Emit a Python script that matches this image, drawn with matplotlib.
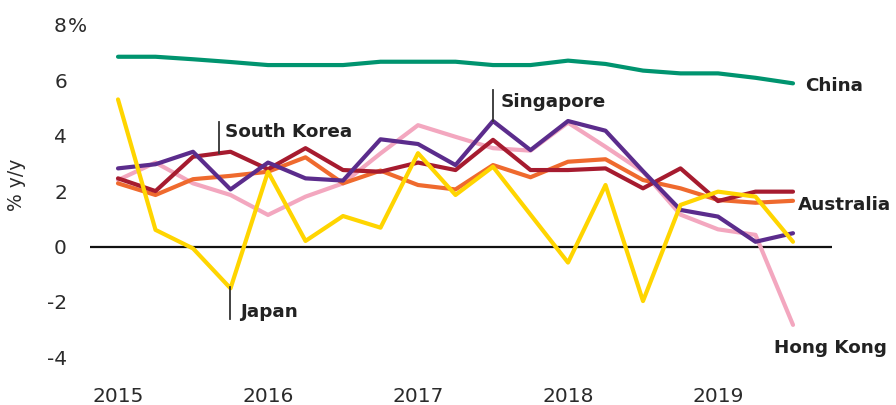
import matplotlib
matplotlib.use("Agg")
import matplotlib.pyplot as plt
import matplotlib.transforms as mtransforms

# ---------------- data ----------------
quarters = ["2015Q1", "2015Q2", "2015Q3", "2015Q4",
            "2016Q1", "2016Q2", "2016Q3", "2016Q4",
            "2017Q1", "2017Q2", "2017Q3", "2017Q4",
            "2018Q1", "2018Q2", "2018Q3", "2018Q4",
            "2019Q1", "2019Q2", "2019Q3"]

china = [6.85, 6.85, 6.76, 6.66, 6.55, 6.55, 6.55, 6.67, 6.67, 6.67,
         6.55, 6.55, 6.71, 6.59, 6.35, 6.25, 6.25, 6.09, 5.89]
hong_kong = [2.4, 3.03, 2.28, 1.86, 1.14, 1.8, 2.28, 3.36, 4.38, 3.96,
             3.55, 3.46, 4.47, 3.6, 2.7, 1.15, 0.62, 0.42, -2.83]
australia = [2.28, 1.86, 2.43, 2.55, 2.7, 3.22, 2.28, 2.74, 2.22, 2.06,
             2.94, 2.5, 3.06, 3.15, 2.4, 2.1, 1.68, 1.58, 1.65]
south_korea = [2.46, 2.0, 3.24, 3.42, 2.79, 3.55, 2.76, 2.7, 3.03, 2.76,
               3.85, 2.76, 2.76, 2.82, 2.1, 2.82, 1.64, 1.98, 1.98]
singapore = [2.82, 2.97, 3.42, 2.06, 3.03, 2.46, 2.38, 3.87, 3.7, 2.94,
             4.53, 3.48, 4.53, 4.18, 2.72, 1.32, 1.08, 0.17, 0.48]
japan = [5.31, 0.6, -0.07, -1.51, 2.7, 0.2, 1.1, 0.68, 3.37, 1.86,
         2.88, 1.15, -0.58, 2.22, -1.97, 1.5, 1.98, 1.8, 0.17]

year_ticks = ["2015", "2016", "2017", "2018", "2019"]
year_tick_quarters = ["2015Q1", "2016Q1", "2017Q1", "2018Q1", "2019Q1"]
y_ticks = [8, 6, 4, 2, 0, -2, -4]

# ---------------- styling ----------------
colors = {
    "China": "#00946f",
    "Hong Kong": "#f3a7bf",
    "Australia": "#ef6a2e",
    "South Korea": "#a61b2f",
    "Singapore": "#5b2c8c",
    "Japan": "#ffd500",
}
series = [("China", china), ("Hong Kong", hong_kong), ("Australia", australia),
          ("South Korea", south_korea), ("Singapore", singapore), ("Japan", japan)]

W, H = 896, 405
fig = plt.figure(figsize=(W / 100, H / 100), dpi=100)
ax_left, ax_right = 90, 832
ax_top, ax_bottom = 24.9, 357.3
ax = fig.add_axes([ax_left / W, 1 - ax_bottom / H,
                   (ax_right - ax_left) / W, (ax_bottom - ax_top) / H])

x = list(range(len(quarters)))
ax.axhline(0, color="#111111", lw=1.6, zorder=1)
for z, (name, vals) in enumerate(series):
    ax.plot(x, vals, color=colors[name], lw=3.0, solid_capstyle="round",
            solid_joinstyle="round", zorder=2 + z)

ax.set_xlim(-0.747, 19.04)
ax.set_ylim(-4, 8)
for s in ax.spines.values():
    s.set_visible(False)

tick_color = "#2b2b2b"
ax.set_xticks([quarters.index(q) for q in year_tick_quarters], labels=year_ticks)
ax.set_yticks(y_ticks, labels=[str(v) for v in y_ticks])
ax.tick_params(axis="x", length=0, pad=21.4, labelsize=14.5, labelcolor=tick_color)
ax.tick_params(axis="y", length=0, pad=16.6, labelsize=14.5, labelcolor=tick_color)

trans = mtransforms.blended_transform_factory(fig.transFigure, ax.transData)
ax.text(67.5 / W, 8, "%", transform=trans, ha="left", va="center_baseline",
        fontsize=14.5, color=tick_color)

fig.text(17 / W, 1 - 185 / H, "% y/y", rotation=90, ha="center", va="center",
         fontsize=13.5, color=tick_color)

# ---------------- labels ----------------
lab_kw = dict(fontsize=13.2, fontweight="bold", color="#222222", ha="left",
              va="baseline", clip_on=False, zorder=10)
ax.text(18.32, 5.6, "China", **lab_kw)
ax.text(18.14, 1.3, "Australia", **lab_kw)
ax.text(17.48, -3.84, "Hong Kong", **lab_kw)
ax.text(10.19, 5.05, "Singapore", **lab_kw)
ax.text(2.85, 3.94, "South Korea", **lab_kw)
ax.text(3.25, -2.53, "Japan", **lab_kw)

lead_kw = dict(color="#333333", lw=1.3, clip_on=False, zorder=9)
ax.plot([10, 10], [4.53, 5.65], **lead_kw)
ax.plot([2.69, 2.69], [3.38, 4.49], **lead_kw)
ax.plot([2.99, 2.99], [-1.46, -2.62], **lead_kw)

fig.savefig("out.png", dpi=100)
